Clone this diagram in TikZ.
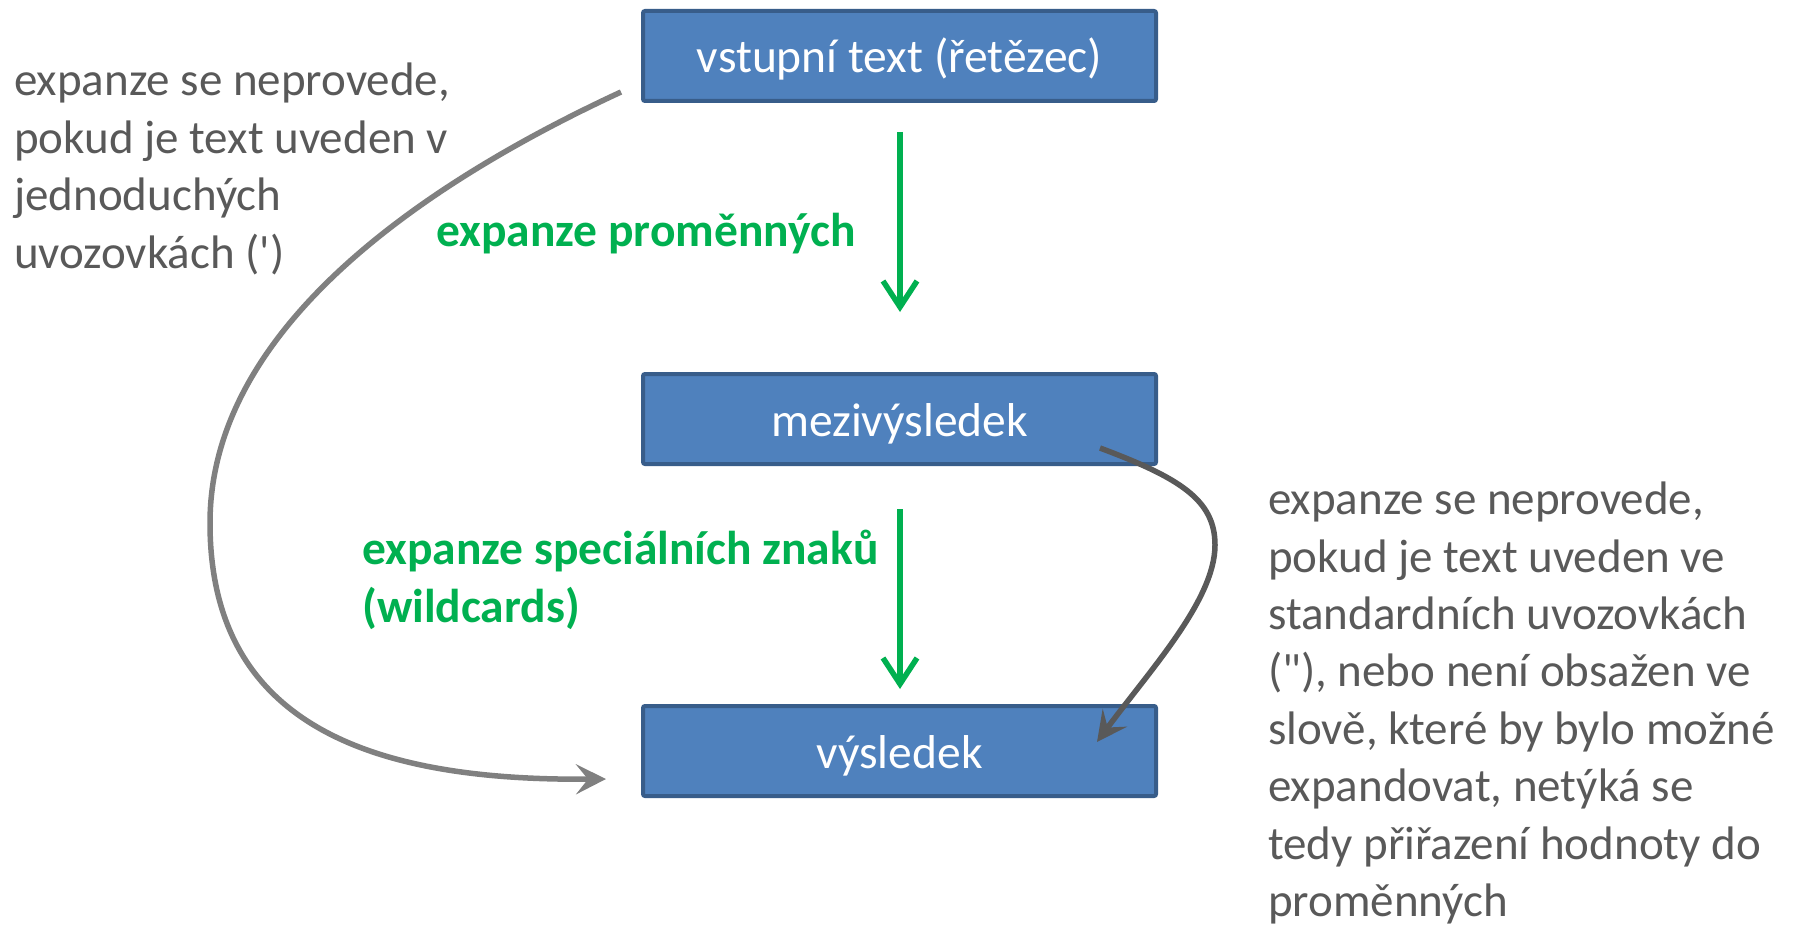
\documentclass[tikz,border=0pt]{standalone}
\usepackage{fontspec}
\setmainfont{Carlito}
\usetikzlibrary{arrows.meta}
\definecolor{boxfill}{HTML}{4F81BD}
\definecolor{boxline}{HTML}{385D8A}
\definecolor{txtgray}{HTML}{595959}
\definecolor{curvegray}{HTML}{808080}
\definecolor{arrgreen}{HTML}{00B050}
\begin{document}
\begin{tikzpicture}[x=1pt,y=-1pt,
  stepbox/.style={draw=boxline, line width=4pt, fill=boxfill, minimum width=513pt, minimum height=90pt, rounded corners=2pt, text=white, font=\fontsize{47.5}{57.4}\selectfont, inner sep=0pt, text height=44pt, text depth=10pt},
  note/.style={text=txtgray, font=\fontsize{47}{57.4}\selectfont, align=left, inner sep=0pt, anchor=base west},
  glabel/.style={text=arrgreen, font=\fontsize{47.5}{57.4}\selectfont\bfseries, align=left, inner sep=0pt, anchor=base west},
  garrow/.style={draw=arrgreen, line width=5.5pt, -{Straight Barb[length=26pt, width=34pt]}},
  lcurve/.style={draw=curvegray, line width=5.5pt, -{Stealth[length=30pt, width=30pt, inset=12pt]}},
  rcurve/.style={draw=txtgray, line width=5.5pt, -{Stealth[length=30pt, width=30pt, inset=12pt]}}
]
\useasboundingbox (0,0) rectangle (1801,928);
\fill[white] (0,0) rectangle (1801,928);

\node[stepbox] (in) at (899.5,56) {vstupní text (řetězec)};
\node[stepbox] (mid) at (899.5,419) {mezivýsledek};
\node[stepbox] (out) at (899.5,751) {výsledek};

\coordinate (g1s) at (900,132);
\coordinate (g1e) at (900,312);
\coordinate (g2s) at (900,509);
\coordinate (g2e) at (900,689);
\draw[garrow] (g1s) -- (g1e);
\draw[garrow] (g2s) -- (g2e);

\node[glabel] (lab1) at (436,247) {expanze proměnných};
\node[glabel] (lab2) at (362,622) {expanze speciálních znaků\\(wildcards)};

\node[note] (left) at (14,268) {expanze se neprovede,\\pokud je text uveden v\\jednoduchých\\uvozovkách (\textquotesingle)};
\node[note] (right) at (1268,916.5) {expanze se neprovede,\\pokud je text uveden ve\\standardních uvozovkách\\(\textquotedbl), nebo není obsažen ve\\slově, které by bylo možné\\expandovat, netýká se\\tedy přiřazení hodnoty do\\proměnných};

\coordinate (c1s) at (621,92);
\coordinate (c1e) at (606,779);
\draw[lcurve] (c1s) .. controls (420,185) and (210,330) .. (210,523) .. controls (210,730) and (380,781) .. (c1e);

\coordinate (c2s) at (1100,448);
\coordinate (c2e) at (1097,742);
\draw[rcurve] (c2s) .. controls (1180,478) and (1215,500) .. (1215,545) .. controls (1215,600) and (1150,670) .. (c2e);
\end{tikzpicture}
\end{document}
